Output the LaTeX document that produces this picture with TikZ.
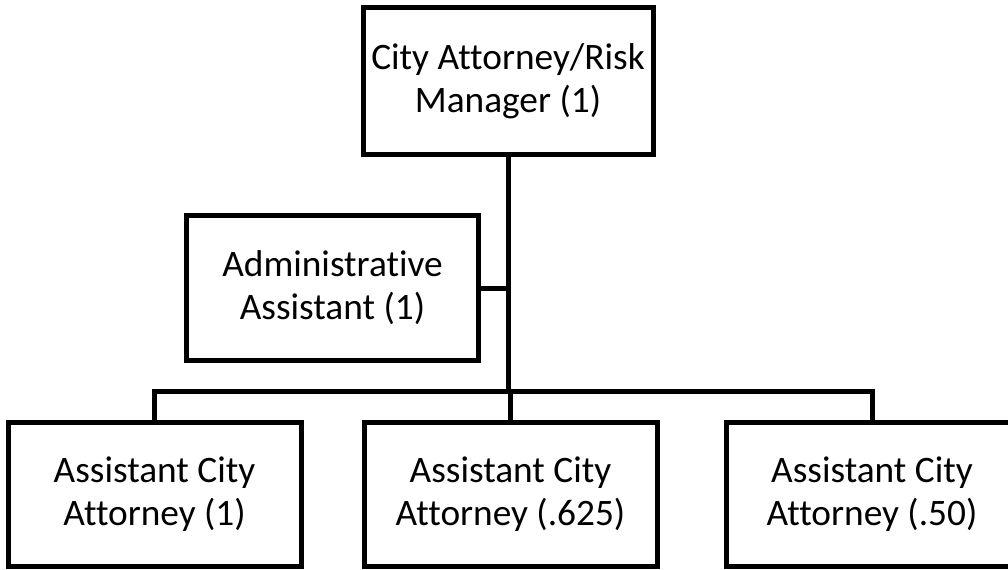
\documentclass[tikz,border=0pt]{standalone}
\usepackage{fontspec}
\setmainfont{Carlito}[Ligatures={NoCommon}]
\begin{document}
\begin{tikzpicture}[x=0.75pt,y=-0.75pt,
  box/.style={draw=black,line width=3.75pt,fill=white,rectangle,align=center,
    inner sep=0pt,font=\fontsize{28}{32.25}\selectfont},
  link/.style={draw=black,line width=3.75pt}]
\useasboundingbox (0,0) rectangle (1008,569);
\node[box,minimum width=217.5pt,minimum height=110.25pt] (top) at (508,81) {City Attorney/Risk\\Manager (1)};
\node[box,minimum width=219pt,minimum height=109.1pt] (admin) at (332.5,288) {Administrative\\Assistant (1)};
\node[box,minimum width=219.75pt,minimum height=108pt] (b1) at (154.5,494) {Assistant City\\Attorney (1)};
\node[box,minimum width=219.75pt,minimum height=108pt] (b2) at (510.5,494) {Assistant City\\Attorney (.625)};
\node[box,minimum width=219pt,minimum height=108pt] (b3) at (872,494) {Assistant City\\Attorney (.50)};
\coordinate (bus) at (0,391.5);
\draw[link] (top.south) -- (top.south |- bus);
\draw[link] (admin.east) -- (admin.east -| top.south);
\draw[link] (b1.north) -- (b1.north |- bus) -- (b3.north |- bus) -- (b3.north);
\draw[link] (b2.north) -- (b2.north |- bus);
\end{tikzpicture}
\end{document}
